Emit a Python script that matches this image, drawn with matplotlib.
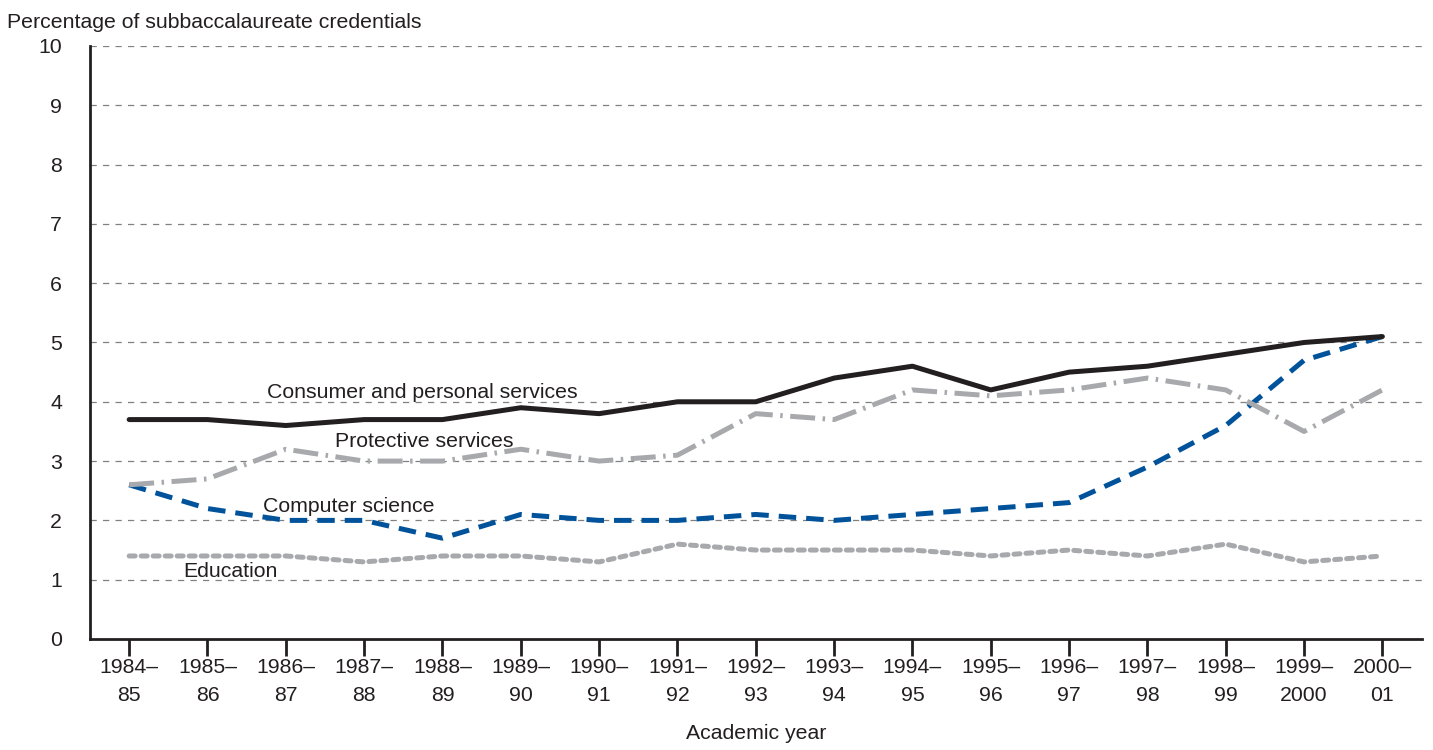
import matplotlib
matplotlib.use("Agg")
import matplotlib.pyplot as plt

years = ["1984–\n85", "1985–\n86", "1986–\n87", "1987–\n88", "1988–\n89", "1989–\n90",
         "1990–\n91", "1991–\n92", "1992–\n93", "1993–\n94", "1994–\n95", "1995–\n96",
         "1996–\n97", "1997–\n98", "1998–\n99", "1999–\n2000", "2000–\n01"]
consumer = [3.7, 3.7, 3.6, 3.7, 3.7, 3.9, 3.8, 4.0, 4.0, 4.4, 4.6, 4.2, 4.5, 4.6, 4.8, 5.0, 5.1]
protective = [2.6, 2.7, 3.2, 3.0, 3.0, 3.2, 3.0, 3.1, 3.8, 3.7, 4.2, 4.1, 4.2, 4.4, 4.2, 3.5, 4.2]
computer = [2.6, 2.2, 2.0, 2.0, 1.7, 2.1, 2.0, 2.0, 2.1, 2.0, 2.1, 2.2, 2.3, 2.9, 3.6, 4.7, 5.1]
education = [1.4, 1.4, 1.4, 1.3, 1.4, 1.4, 1.3, 1.6, 1.5, 1.5, 1.5, 1.4, 1.5, 1.4, 1.6, 1.3, 1.4]

plt.rcParams['font.family'] = ['Liberation Sans', 'DejaVu Sans']
txt = "#231f20"
fs = 15.3

fig = plt.figure(figsize=(14.33, 7.5), dpi=100)
ax = fig.add_axes([0.0628, 0.148, 0.9292, 0.7907])
x = range(len(years))

ax.plot(x, education, color="#a7a9ac", lw=3.6, linestyle=(0, (1.2, 1.2)), dash_capstyle="round")
ax.plot(x, computer, color="#00539b", lw=3.6, linestyle=(0, (3.5, 2)))
ax.plot(x, protective, color="#a7a9ac", lw=3.6, linestyle=(0, (5, 1.5, 0.5, 1.5)))
ax.plot(x, consumer, color=txt, lw=3.6, solid_capstyle="round")

# series labels
ax.text(3.74, 4.07, "Consumer and personal services", fontsize=fs, color=txt, ha="center")
ax.text(3.77, 3.24, "Protective services", fontsize=fs, color=txt, ha="center")
ax.text(2.8, 2.14, "Computer science", fontsize=fs, color=txt, ha="center")
ax.text(1.29, 1.05, "Education", fontsize=fs, color=txt, ha="center")

ax.set_xlim(-0.5, 16.5)
ax.set_ylim(0, 10)
ax.set_yticks(range(0, 11))
ax.set_xticks(list(x))
ax.set_xticklabels(years, fontsize=fs, color=txt, linespacing=1.55)
ax.tick_params(axis="y", length=0, labelsize=fs, labelcolor=txt, pad=20)
ax.tick_params(axis="x", length=12, width=2, color=txt, pad=2)
for yv in range(1, 11):
    ax.axhline(yv, color="#808080", lw=0.9, linestyle=(0, (5, 5)), zorder=0)

for s in ["top", "right"]:
    ax.spines[s].set_visible(False)
for s in ["left", "bottom"]:
    ax.spines[s].set_linewidth(2)
    ax.spines[s].set_color(txt)

fig.text(0.005, 0.963, "Percentage of subbaccalaureate credentials", fontsize=fs, color=txt)
ax.set_xlabel("Academic year", fontsize=fs, color=txt, labelpad=14)

fig.savefig("out.png", dpi=100)
